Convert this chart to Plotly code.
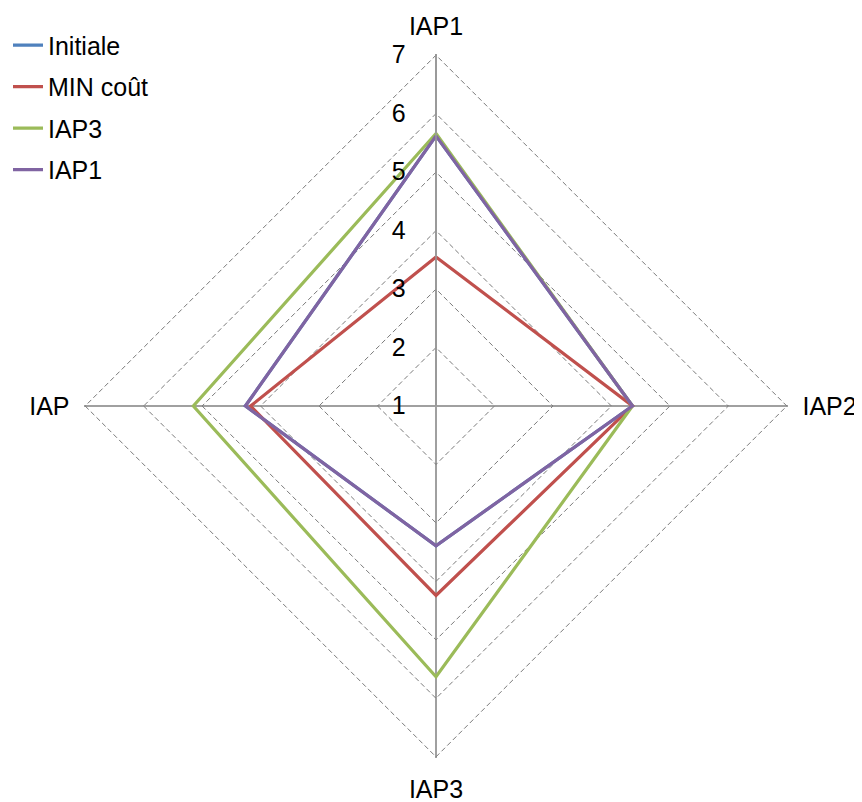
import plotly.graph_objects as go

axes = ["IAP1", "IAP2", "IAP3", "IAP"]
series_names = ["Initiale", "MIN coût", "IAP3", "IAP1"]
initiale = [5.62, 4.36, 3.39, 4.26]
min_cout = [3.55, 4.36, 4.24, 4.17]
iap3 = [5.66, 4.36, 5.63, 5.15]
iap1 = [5.62, 4.36, 3.39, 4.26]
colors = ["#4F81BD", "#C0504D", "#9BBB59", "#8064A2"]
radial_ticks = [1, 2, 3, 4, 5, 6, 7]

fig = go.Figure()
for i, (name, vals) in enumerate(zip(series_names, [initiale, min_cout, iap3, iap1])):
    fig.add_trace(go.Scatterpolar(
        r=vals + vals[:1], theta=axes + axes[:1], mode="lines", name=name,
        line=dict(color=colors[i], width=3.2), legendgroup=f"g{i}",
    ))

cx, cy, R = 428, 398, 352
fig.update_layout(
    width=862, height=802,
    margin=dict(l=0, r=0, t=0, b=0),
    paper_bgcolor="white", plot_bgcolor="white",
    font=dict(family="Liberation Sans, Arial, sans-serif", size=25, color="black"),
    polar=dict(
        domain=dict(x=[(cx - R) / 862, (cx + R) / 862],
                    y=[(802 - cy - R) / 802, (802 - cy + R) / 802]),
        bgcolor="white",
        gridshape="linear",
        radialaxis=dict(
            range=[1, 7.02], tickvals=radial_ticks,
            ticktext=[str(t) + "\u00a0\u00a0\u00a0" for t in radial_ticks],
            angle=90, side="counterclockwise", tickangle=90,
            showline=True, linecolor="#999999", linewidth=1.5,
            gridcolor="#7a7a7a", griddash="5px,3px", gridwidth=1.3,
            ticks="", tickfont=dict(size=25),
        ),
        angularaxis=dict(
            direction="clockwise", rotation=90,
            showline=False, gridcolor="#a0a0a0", gridwidth=1.5,
            ticks="outside", ticklen=9, tickcolor="rgba(0,0,0,0)",
            tickfont=dict(size=25),
        ),
    ),
    showlegend=True,
    legend=dict(x=0.0, y=0.982, xanchor="left", yanchor="top",
                font=dict(size=25), tracegroupgap=6, traceorder="grouped",
                bgcolor="rgba(0,0,0,0)"),
)

fig.write_html("out.html")
